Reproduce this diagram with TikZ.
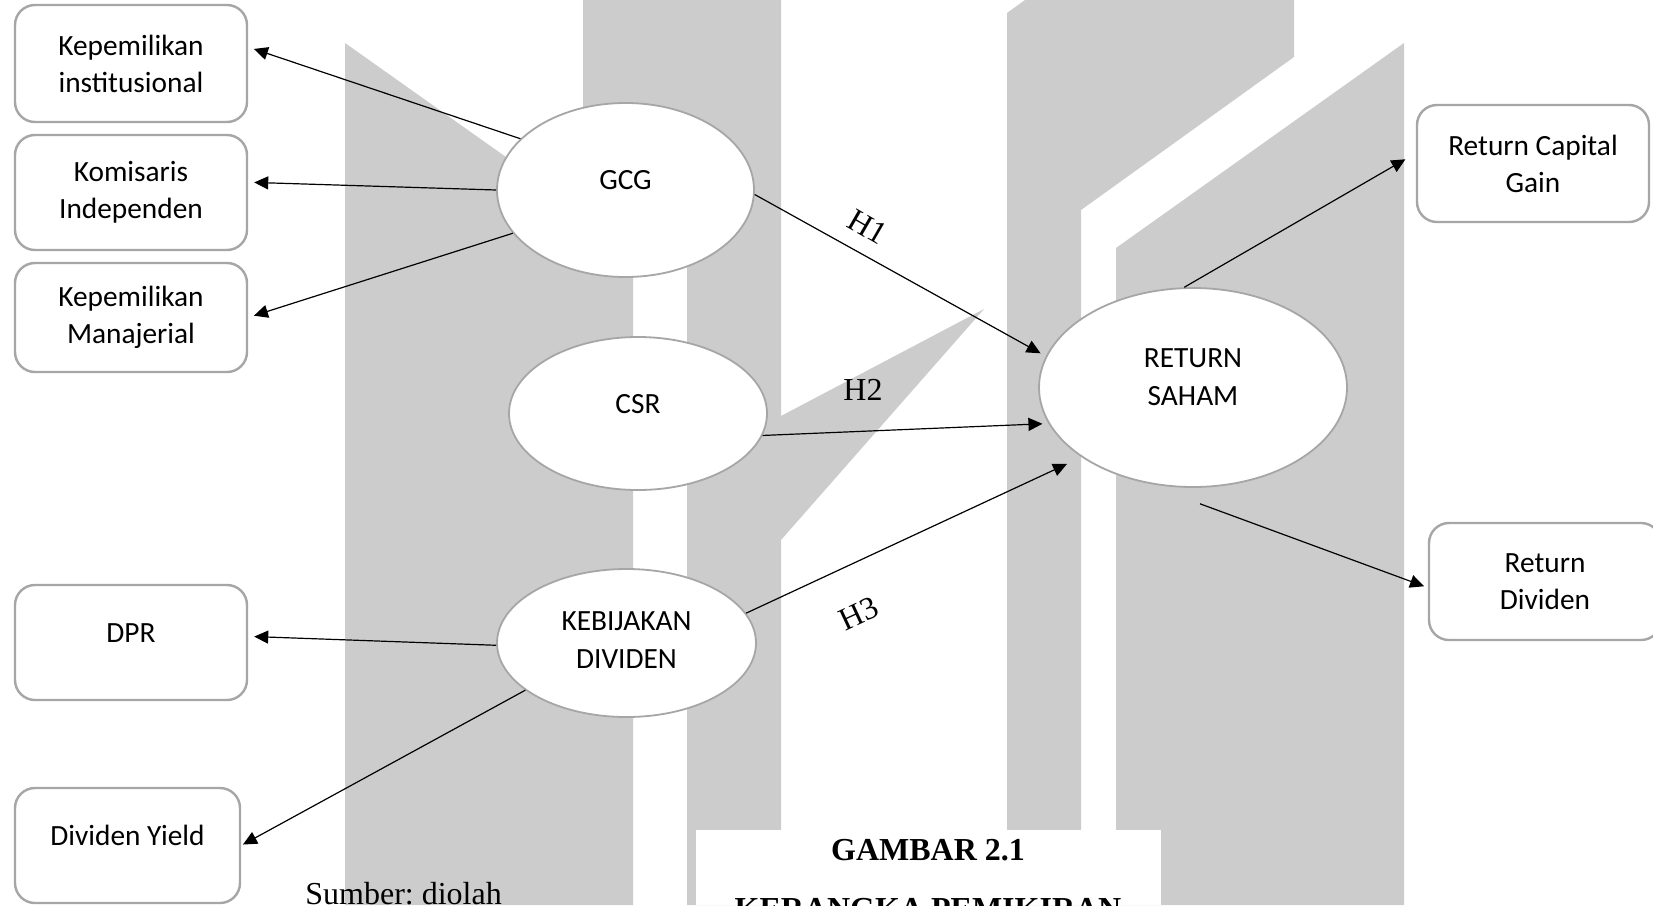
\documentclass[tikz,border=0pt]{standalone}
\usepackage{fontspec}
\setmainfont{Liberation Serif}
\newfontfamily\calfont{Carlito}
\usetikzlibrary{shapes.geometric,arrows.meta}
\newcommand\liftt[2]{\raisebox{#1}[\height][\depth]{#2}}
\frenchspacing
\begin{document}
\begin{tikzpicture}[x=0.5pt,y=-0.5pt,
  wm/.style={fill=black!20},
  box/.style={draw=black!35, line width=1.2pt, rounded corners=10pt, fill=white,
    minimum width=116pt, minimum height=58.5pt, inner sep=0pt, align=center,
    font=\calfont\fontsize{14.67}{18.5}\selectfont},
  oval/.style={ellipse, draw=black!35, line width=0.9pt, fill=white, inner sep=0pt,
    font=\calfont\fontsize{14.67}{19}\selectfont},
  arr/.style={-{Triangle[length=7pt,width=6.5pt]}, line width=0.6pt},
  hyp/.style={font=\fontsize{16}{19}\selectfont, inner sep=0pt},
  captxt/.style={font=\bfseries\fontsize{16}{19}\selectfont, anchor=base, inner sep=0pt},
]
\useasboundingbox (0,0) rectangle (1653,905);
\clip (0,0) rectangle (1653,905);
\fill[white] (0,0) rectangle (1653,905);

% watermark
\fill[wm] (345,43) -- (633,247) -- (633,905) -- (345,905) -- cycle;
\fill[wm] (583,0) rectangle (687,230);
\fill[wm] (687,0) -- (781,0) -- (781,416) -- (984,309) -- (781,540) -- (781,905) -- (687,905) -- cycle;
\fill[wm] (1007,13) -- (1025,0) -- (1294,0) -- (1294,57) -- (1081,210) -- (1081,905) -- (1007,905) -- cycle;
\fill[wm] (1116,248) -- (1404,43) -- (1404,905) -- (1116,905) -- cycle;
\fill[white] (696,830) rectangle (1161,905);

% boxes
\node[box] (ki) at (131,63.5) {Kepemilikan\\institusional};
\node[box, minimum height=57.5pt] (kom) at (131,192.5) {Komisaris\\Independen};
\node[box, minimum height=54.5pt] (man) at (131,317.5) {Kepemilikan\\Manajerial};
\node[box, minimum height=57.5pt] (dpr) at (131,642.5) {\liftt{4.75pt}{DPR}};
\node[box, minimum width=112.5pt, minimum height=57.5pt] (dy) at (127.5,845.5) {\liftt{5pt}{Dividen Yield}};
\node[box] (rcg) at (1533,163.5) {Return Capital\\Gain};
\node[box] (rd) at (1545,581.5) {Return\\Dividen};

% ellipses
\node[oval, minimum width=128.5pt, minimum height=87pt] (gcg) at (625.5,190) {\liftt{5pt}{GCG}};
\node[oval, minimum width=129pt, minimum height=76.5pt] (csr) at (638,413.5) {\liftt{4.75pt}{CSR}};
\node[oval, minimum width=129.5pt, minimum height=74pt] (keb) at (626.5,643)
  {\liftt{0.6pt}{\begin{tabular}{@{}c@{}}KEBIJAKAN\\DIVIDEN\end{tabular}}};
\node[oval, minimum width=154pt, minimum height=99.5pt] (rs) at (1193,387.5)
  {\liftt{4.4pt}{\begin{tabular}{@{}c@{}}RETURN\\SAHAM\end{tabular}}};

% connectors
\draw[arr, shorten >=3pt] (gcg.154) -- (ki.8);
\draw[arr, shorten >=3pt] (gcg.180) -- (kom.5);
\draw[arr, shorten >=3pt] (gcg.201) -- (man.east);
\draw[arr, shorten >=3pt] (gcg.358) -- (rs.168);
\draw[arr, shorten >=3pt] (csr.350) -- (rs.194);
\draw[arr, shorten >=8pt] (keb.14) -- (rs.212);
\draw[arr, shorten >=3pt] (keb.181) -- (dpr.3);
\draw[arr, shorten >=1pt] (keb.205) -- (dy.east);
\draw[arr, shorten >=6pt] (rs.95) -- (rcg.175);
\draw[arr, shorten >=2pt] ([yshift=-8pt]rs.274) -- (rd.183);

% hypothesis labels
\node[hyp, rotate=-30] (h1) at (868,227) {H1};
\node[hyp] (h2) at (863,390) {H2};
\node[hyp, rotate=25] (h3) at (859,614) {H3};

% caption
\node[captxt] (cap1) at (928,860) {GAMBAR 2.1};
\node[captxt] (cap2) at (928,919) {KERANGKA PEMIKIRAN};
\node[font=\fontsize{16}{19}\selectfont, anchor=base west, inner sep=0pt] (src) at (305,904) {Sumber: diolah};
\end{tikzpicture}
\end{document}
